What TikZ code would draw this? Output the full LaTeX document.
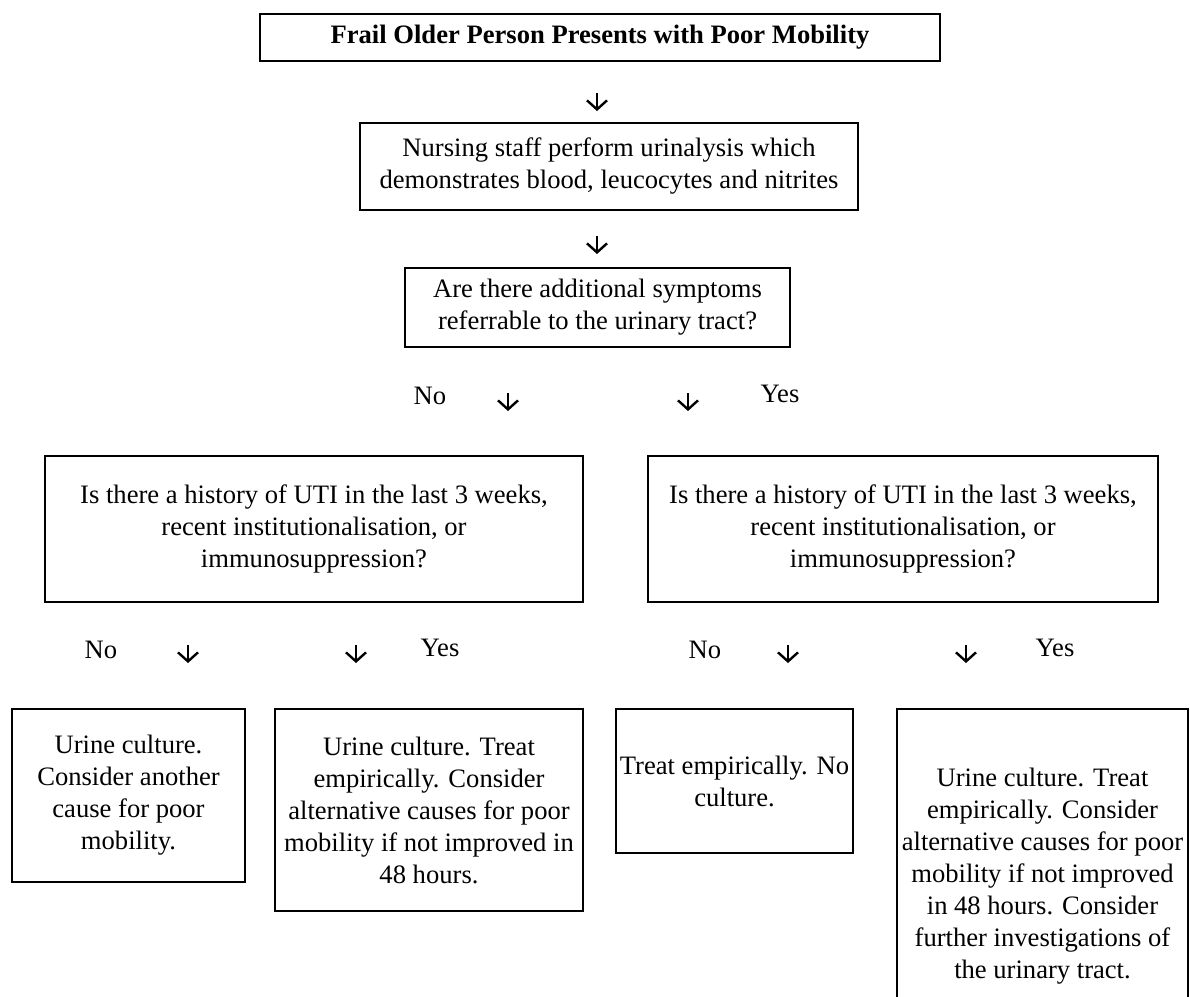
\documentclass[tikz,border=0pt]{standalone}
\usepackage{fontspec}
\setmainfont{Liberation Serif}
\usetikzlibrary{arrows.meta}

\begin{document}
\begin{tikzpicture}[x=0.5pt,y=-0.5pt,
    box/.style={draw,line width=1.2pt,rectangle,align=center,inner sep=2pt,
      font=\fontsize{13.3}{16}\selectfont},
    lbl/.style={font=\fontsize{13.3}{16}\selectfont},
    arr/.style={line width=1.2pt,-{Straight Barb[length=4.5pt,width=10pt,line width=1.2pt]}}]
  \clip (0,0) rectangle (1190,997);
  % top of the chart
  \node[box,minimum width=340pt,minimum height=23.5pt] (frail) at (600,37.5)
    {\bfseries Frail Older Person Presents with Poor Mobility};
  \node[box,minimum width=249pt,minimum height=43.5pt] (urin) at (609,166.5)
    {Nursing staff perform urinalysis which\\demonstrates blood, leucocytes and nitrites};
  \node[box,minimum width=192.5pt,minimum height=39.5pt] (sympt) at (597.5,307.5)
    {Are there additional symptoms\\referrable to the urinary tract?};
  % history questions
  \node[box,minimum width=269pt,minimum height=73pt] (histno) at (314,529)
    {Is there a history of UTI in the last 3 weeks,\\recent institutionalisation, or\\immunosuppression?};
  \node[box,minimum width=255pt,minimum height=73pt] (histyes) at (903,529)
    {Is there a history of UTI in the last 3 weeks,\\recent institutionalisation, or\\immunosuppression?};
  % outcomes
  \node[box,minimum width=116.5pt,minimum height=86.5pt] (outA) at (128.5,795.5)
    {Urine culture.\\Consider another\\cause for poor\\mobility.};
  \node[box,minimum width=154pt,minimum height=101pt] (outB) at (429,810)
    {Urine culture. Treat\\empirically. Consider\\alternative causes for poor\\mobility if not improved in\\48 hours.};
  \node[box,minimum width=117.5pt,minimum height=72pt] (outC) at (734.5,781)
    {Treat empirically. No\\culture.};
  \node[box,minimum width=145.5pt,minimum height=167pt] (outD) at (1042.5,876)
    {Urine culture. Treat\\empirically. Consider\\alternative causes for poor\\mobility if not improved\\in 48 hours. Consider\\further investigations of\\the urinary tract.};
  % branch labels
  \node[lbl] (no1) at (430,396) {No};
  \node[lbl] (yes1) at (780,394) {Yes};
  \node[lbl] (no2) at (101,650) {No};
  \node[lbl] (yes2) at (440,648) {Yes};
  \node[lbl] (no3) at (705,650) {No};
  \node[lbl] (yes3) at (1055,648) {Yes};
  % arrows
  \foreach \n/\x/\y in {a/597/93,b/597/236,c/508/393,d/688/393,e/188/645,f/356/645,g/788/645,h/966/645}{
    \coordinate (\n s) at (\x,\y);
    \coordinate (\n e) at (\x,\y+18);
    \draw[arr] (\n s) -- (\n e);
  }
\end{tikzpicture}
\end{document}
